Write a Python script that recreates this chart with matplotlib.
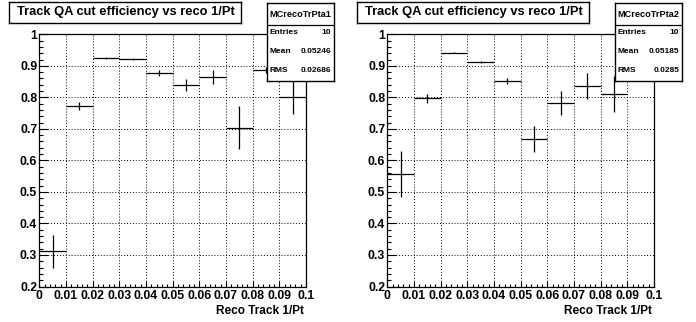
import numpy as np
import matplotlib
matplotlib.use("Agg")
import matplotlib.pyplot as plt
from matplotlib.ticker import MultipleLocator, FuncFormatter

plt.rcParams['font.family'] = ['Liberation Sans', 'DejaVu Sans']
plt.rcParams['font.weight'] = 'bold'

# Efficiency per 1/Pt bin (bin width 0.01)
bin_centers = [0.005, 0.015, 0.025, 0.035, 0.045, 0.055, 0.065, 0.075, 0.085, 0.095]
bin_half_width = 0.005

eff_a1 = [0.312, 0.772, 0.924, 0.921, 0.878, 0.839, 0.864, 0.703, 0.886, 0.801]
err_a1 = [0.052, 0.013, 0.003, 0.003, 0.009, 0.018, 0.023, 0.068, 0.010, 0.055]

eff_a2 = [0.557, 0.797, 0.942, 0.912, 0.852, 0.668, 0.782, 0.836, 0.812, np.nan]
err_a2 = [0.074, 0.014, 0.002, 0.003, 0.010, 0.041, 0.038, 0.040, 0.057, np.nan]

hist_names = ["MCrecoTrPta1", "MCrecoTrPta2"]
entries = [10, 10]
means = ["0.05246", "0.05185"]
rms = ["0.02686", "0.0285"]

title = "Track QA cut efficiency vs reco 1/Pt"
xlabel = "Reco Track 1/Pt"

W, H = 696, 322
fig = plt.figure(figsize=(W / 100, H / 100), dpi=100)


def px_axes(x0, y0, x1, y1, **kw):
    # axes placed by pixel box (top-left origin)
    return fig.add_axes([x0 / W, 1 - y1 / H, (x1 - x0) / W, (y1 - y0) / H], **kw)


def xfmt(v, p):
    if abs(v) < 1e-9:
        return "0"
    return f"{v:.2f}".rstrip("0") if abs(v - 0.1) < 1e-9 else f"{v:.2f}"


def yfmt(v, p):
    if abs(v - 1) < 1e-9:
        return "1"
    return f"{v:.1f}"


def draw_panel(off, eff, err, name, n, mean, rmsv):
    ax = px_axes(39.3 + off, 34.3, 306 + off, 286.5)
    ax.errorbar(bin_centers, eff, xerr=bin_half_width, yerr=err, fmt='none',
                ecolor='black', elinewidth=0.9, capsize=0)
    ax.set_xlim(0, 0.1)
    ax.set_ylim(0.2, 1.0)
    ax.xaxis.set_major_locator(MultipleLocator(0.01))
    ax.xaxis.set_minor_locator(MultipleLocator(0.002))
    ax.yaxis.set_major_locator(MultipleLocator(0.1))
    ax.yaxis.set_minor_locator(MultipleLocator(0.02))
    ax.xaxis.set_major_formatter(FuncFormatter(xfmt))
    ax.yaxis.set_major_formatter(FuncFormatter(yfmt))
    ax.tick_params(which='both', direction='in', top=False, right=False)
    ax.tick_params(axis='x', which='major', length=4.5, width=0.8, labelsize=8.8, pad=2.5)
    ax.tick_params(axis='x', which='minor', length=2.2, width=0.8)
    ax.tick_params(axis='y', which='major', length=6.5, width=0.8, labelsize=8.8, pad=1.5)
    ax.tick_params(axis='y', which='minor', length=3.2, width=0.8)
    for lab in ax.get_xticklabels() + ax.get_yticklabels():
        lab.set_fontweight('bold')
    ax.grid(True, which='major', color='black', linestyle=(0, (1, 2)), linewidth=0.7)
    for sp in ax.spines.values():
        sp.set_linewidth(0.9)
    fig.text((304 + off) / W, 1 - 310.7 / H, xlabel, ha='right', va='center',
             fontsize=8.5, fontweight='bold')

    # title box
    tb = px_axes(9 + off, 1.5, 240.5 + off, 22.5)
    tb.set_xticks([])
    tb.set_yticks([])
    for sp in tb.spines.values():
        sp.set_linewidth(1.0)
    tb.text(8 / 231.5, 0.5, title, transform=tb.transAxes, ha='left', va='center',
            fontsize=9.3, fontweight='bold')

    # statistics box
    sb = px_axes(267 + off, 3, 334 + off, 81)
    sb.set_xticks([])
    sb.set_yticks([])
    sb.set_xlim(0, 67)
    sb.set_ylim(78, 0)
    for sp in sb.spines.values():
        sp.set_linewidth(1.0)
    sb.axhline(21.5, color='black', linewidth=0.9)
    sb.text(33.5, 11.5, name, ha='center', va='center', fontsize=6.6, fontweight='bold')
    rows = [("Entries", str(n)), ("Mean", mean), ("RMS", rmsv)]
    for (k, v), yy in zip(rows, [29.5, 48.5, 67.5]):
        sb.text(2.5, yy, k, ha='left', va='center', fontsize=6.0, fontweight='bold')
        sb.text(64, yy, v, ha='right', va='center', fontsize=6.0, fontweight='bold')
    return ax


draw_panel(0, eff_a1, err_a1, hist_names[0], entries[0], means[0], rms[0])
draw_panel(348, eff_a2, err_a2, hist_names[1], entries[1], means[1], rms[1])

fig.savefig("out.png", dpi=100)
